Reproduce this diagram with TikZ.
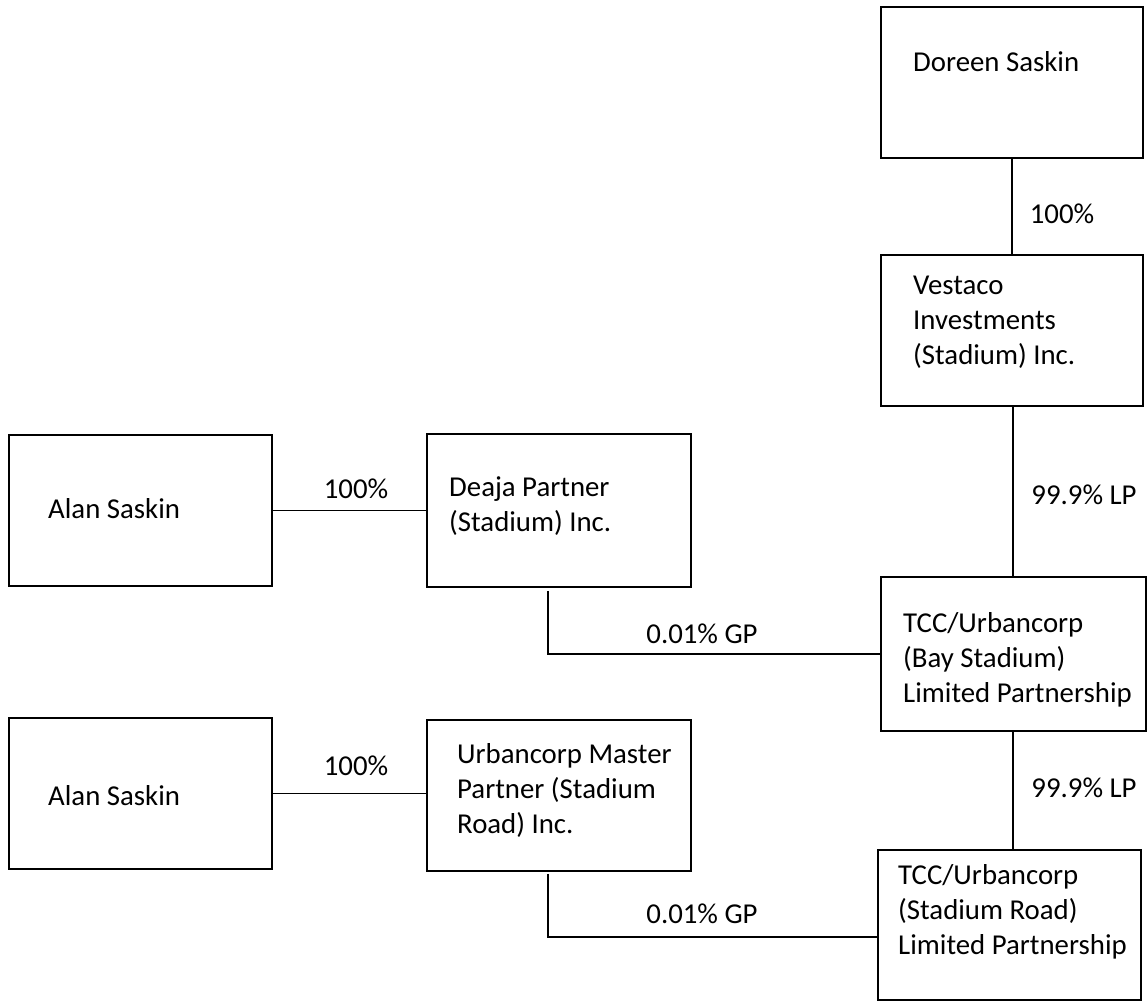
\documentclass[tikz,border=0pt]{standalone}
\usepackage{fontspec}
\setmainfont{Carlito}
\begin{document}
\begin{tikzpicture}[x=1pt,y=-1pt,
  box/.style={draw=black,line width=1.8pt,inner sep=0pt,minimum width=#1},
  txt/.style={inner sep=0pt,anchor=west,align=left,font=\fontsize{28.8}{35}\selectfont},
  lbl/.style={inner sep=0pt,font=\fontsize{28.8}{35}\selectfont},
  conn/.style={draw=black,line width=1.4pt}]
\useasboundingbox[fill=white] (0,0) rectangle (1147,1005);
% boxes
\node[box=262pt,minimum height=151pt] (doreen) at (1012,82.5) {};
\node[box=262pt,minimum height=151pt] (vestaco) at (1012,330.5) {};
\node[box=263pt,minimum height=151pt] (alan1) at (140.5,510.5) {};
\node[box=264pt,minimum height=153pt] (deaja) at (559,510.5) {};
\node[box=265pt,minimum height=154pt] (bay) at (1013.5,654) {};
\node[box=263pt,minimum height=151pt] (alan2) at (140.5,793.5) {};
\node[box=264pt,minimum height=151pt] (master) at (559,795.5) {};
\node[box=263pt,minimum height=150pt] (road) at (1009.5,925) {};
% texts
\node[txt] (tdoreen) at (913,62) {Doreen Saskin};
\node[txt] (tvestaco) at (913,322) {Vestaco\\Investments\\(Stadium) Inc.};
\node[txt] (talan1) at (48,509) {Alan Saskin};
\node[txt] (tdeaja) at (449,506) {Deaja Partner\\(Stadium) Inc.};
\node[txt] (tbay) at (903,660) {TCC/Urbancorp\\(Bay Stadium)\\Limited Partnership};
\node[txt] (talan2) at (48,796) {Alan Saskin};
\node[txt] (tmaster) at (457,790) {Urbancorp Master\\Partner (Stadium\\Road) Inc.};
\node[txt] (troad) at (898,912) {TCC/Urbancorp\\(Stadium Road)\\Limited Partnership};
% connectors
\draw[conn] (doreen.south) -- (vestaco.north);
\draw[conn] ([xshift=1pt]vestaco.south) -- ([xshift=1pt]vestaco.south |- bay.north);
\draw[conn] ([xshift=-0.5pt]bay.south) -- ([xshift=-0.5pt]bay.south |- road.north);
\draw[conn] (alan1.east) -- (deaja.west);
\draw[conn] (alan2.east) -- (alan2.east -| master.west);
\draw[conn] ([xshift=122pt,yshift=-3pt]deaja.south west) -- ([xshift=122pt]deaja.south west |- bay.west) -- (bay.west);
\draw[conn] ([xshift=122pt,yshift=-2pt]master.south west) -- ([xshift=122pt,yshift=-12pt]master.south west |- road.west) -- ([yshift=-12pt]road.west);
% labels
\node[lbl] (l1) at (1062,214) {100\%};
\node[lbl] (l2) at (1084,495) {99.9\% LP};
\node[lbl] (l3) at (356,489) {100\%};
\node[lbl] (l4) at (702,634) {0.01\% GP};
\node[lbl] (l5) at (1084,788) {99.9\% LP};
\node[lbl] (l6) at (356,766) {100\%};
\node[lbl] (l7) at (702,914) {0.01\% GP};
\end{tikzpicture}
\end{document}
